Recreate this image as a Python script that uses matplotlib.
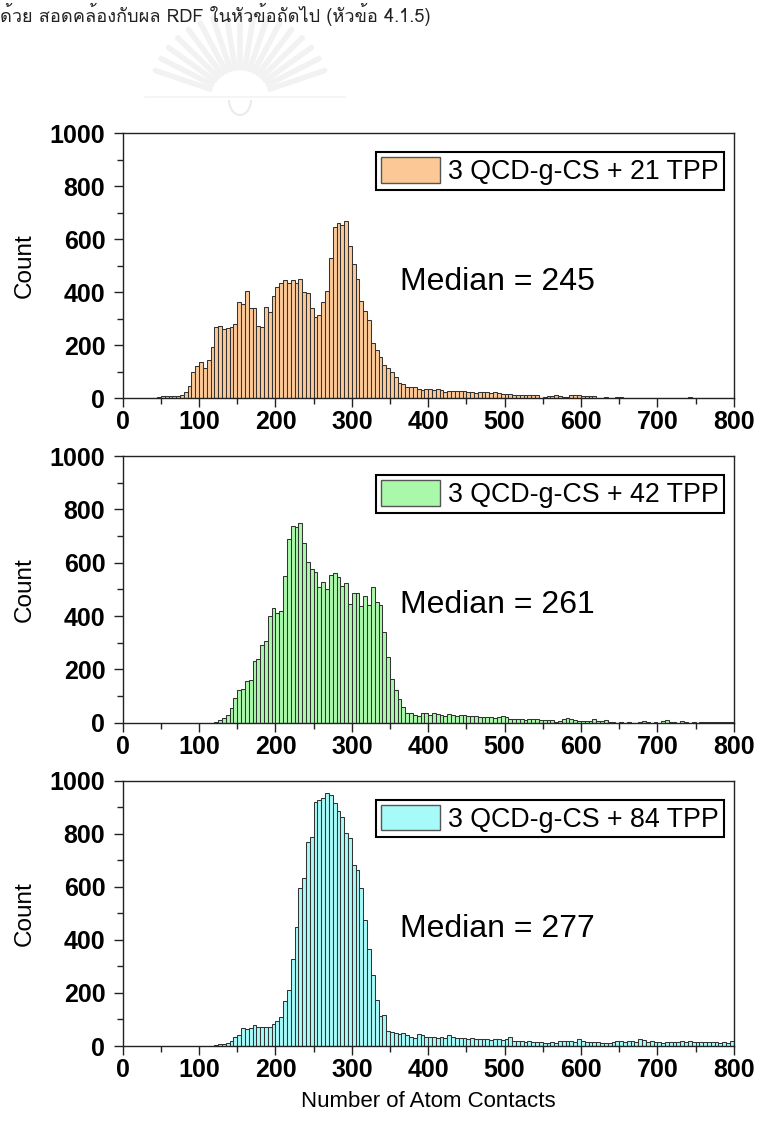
import numpy as np
import matplotlib
matplotlib.use("Agg")
import matplotlib.pyplot as plt
from matplotlib import font_manager, ft2font
from matplotlib.patches import Patch, Arc
from matplotlib.ticker import MultipleLocator

# histogram counts, bin width 5
bin_width = 5

start_21 = 40
counts_21 = [
    2, 5, 8, 8, 8, 8, 9, 12, 22, 48,              # 40-85
    98, 123, 138, 113, 145, 194, 268, 273, 260, 265,  # 90-135
    270, 280, 365, 355, 405, 340, 340, 273, 268, 346,  # 140-185
    325, 387, 421, 434, 445, 436, 447, 434, 452, 402,  # 190-235
    397, 340, 308, 315, 365, 406, 528, 645, 660, 654,  # 240-285
    669, 575, 507, 449, 367, 331, 296, 208, 182, 157,  # 290-335
    126, 113, 98, 82, 57, 55, 44, 44, 44, 34,      # 340-385
    33, 34, 34, 33, 34, 33, 25, 29, 28, 29,        # 390-435
    28, 29, 25, 22, 20, 24, 23, 24, 21, 22,        # 440-485
    20, 16, 17, 15, 13, 13, 12, 13, 13, 12,        # 490-535
    13, 3, 4, 10, 9, 11, 10, 5, 6, 12,            # 540-585
    13, 12, 9, 8, 8, 9, 2, 1, 6, 2,               # 590-635
    1, 6, 5, 1, 1, 1, 1, 1, 0, 1,                 # 640-685
    1, 0, 1, 1, 1, 0, 1, 1, 1, 1,                 # 690-735
    5, 1, 1, 0, 1, 0, 1, 0, 1, 1,                 # 740-785
    0, 1,                                         # 790-795
]

start_42 = 120
counts_42 = [
    4, 10, 16, 29, 54, 91, 122, 125, 158, 160,     # 120-165
    231, 238, 291, 308, 400, 429, 410, 420, 550, 687,  # 170-215
    737, 732, 750, 675, 604, 575, 566, 510, 529, 500,  # 220-265
    554, 560, 547, 514, 525, 445, 487, 487, 437, 475,  # 270-315
    441, 510, 454, 441, 341, 245, 162, 122, 87, 60,    # 320-365
    37, 35, 29, 25, 35, 37, 29, 35, 32, 27,        # 370-415
    25, 32, 28, 26, 30, 27, 25, 24, 26, 22,        # 420-465
    21, 23, 20, 18, 20, 24, 22, 14, 13, 12,        # 470-515
    13, 11, 12, 14, 12, 10, 11, 10, 9, 4,          # 520-565
    5, 15, 16, 12, 10, 7, 7, 6, 8, 13,            # 570-615
    6, 5, 10, 2, 1, 0, 1, 0, 1, 0,                # 620-665
    0, 1, 8, 1, 0, 1, 0, 8, 9, 2,                 # 670-715
    1, 0, 8, 1, 0, 1, 0, 1, 1, 1,                 # 720-765
    1, 1, 1, 1, 1, 1,                             # 770-795
]

start_84 = 120
counts_84 = [
    3, 6, 7, 10, 20, 35, 41, 67, 63, 69,           # 120-165
    79, 70, 73, 70, 73, 83, 95, 111, 171, 211,     # 170-215
    327, 450, 594, 634, 770, 789, 921, 927, 933, 955,  # 220-265
    946, 917, 887, 864, 804, 785, 682, 663, 594, 475,  # 270-315
    364, 268, 173, 112, 115, 58, 54, 50, 44, 48,   # 320-365
    41, 35, 29, 45, 41, 35, 33, 33, 32, 34,        # 370-415
    31, 41, 33, 30, 31, 29, 28, 29, 27, 28,        # 420-465
    25, 27, 24, 26, 25, 23, 26, 33, 20, 18,        # 470-515
    17, 16, 18, 15, 16, 14, 13, 12, 14, 13,        # 520-565
    19, 18, 20, 17, 16, 25, 18, 16, 15, 16,        # 570-615
    14, 12, 13, 12, 14, 17, 18, 15, 17, 19,        # 620-665
    16, 25, 22, 15, 18, 14, 16, 12, 14, 15,        # 670-715
    14, 16, 17, 15, 19, 15, 14, 16, 15, 14,        # 720-765
    16, 15, 13, 14, 12, 20,                        # 770-795
]

series_labels = ["3 QCD-g-CS + 21 TPP", "3 QCD-g-CS + 42 TPP", "3 QCD-g-CS + 84 TPP"]
medians = [245, 261, 277]
bar_colors = ["#FCC896", "#AAF8AA", "#A6FAF8"]
x_label = "Number of Atom Contacts"
y_label = "Count"
header_text = "ด้วย สอดคล้องกับผล RDF ในหัวข้อถัดไป (หัวข้อ 4.1.5)"


def find_thai_font():
    # first installed font that has Thai glyphs
    for f in font_manager.fontManager.ttflist:
        try:
            if 0x0E14 in ft2font.FT2Font(f.fname).get_charmap():
                return f.name
        except Exception:
            pass
    return None


plt.rcParams['font.family'] = ['Liberation Sans', 'DejaVu Sans']

W, H = 758, 1130
fig = plt.figure(figsize=(W / 100, H / 100), dpi=100)

# faint watermark of the scanned page (pixel coords)
bg = fig.add_axes([0, 0, 1, 1], zorder=-5)
bg.set_xlim(0, W)
bg.set_ylim(H, 0)
bg.axis('off')
cx, cy = 240, 100
for ang in np.linspace(20, 160, 17):
    a = np.radians(ang)
    bg.plot([cx + 32 * np.cos(a), cx + 90 * np.cos(a)],
            [cy - 32 * np.sin(a), cy - 86 * np.sin(a)],
            color='#f2f2f2', lw=4, solid_capstyle='round')
bg.add_patch(Arc((cx, cy), 22, 30, theta1=0, theta2=180, color='#ebebeb', lw=1.5))
bg.plot([cx - 95, cx + 105], [cy - 3, cy - 3], color='#f3f3f3', lw=1.2)

# axes boxes in pixels: left, right, top, bottom
ax_left, ax_right = 122.7, 733.7
ax_rows = [(133.3, 398.3), (456.0, 722.7), (780.7, 1046.0)]

panels = [(start_21, counts_21), (start_42, counts_42), (start_84, counts_84)]

axes = []
for i, (top, bottom) in enumerate(ax_rows):
    ax = fig.add_axes([ax_left / W, 1 - bottom / H,
                       (ax_right - ax_left) / W, (bottom - top) / H])
    start, counts = panels[i]
    edges = start + bin_width * np.arange(len(counts))
    ax.bar(edges, counts, width=bin_width, align='edge',
           color=bar_colors[i], edgecolor='#333333', linewidth=0.75)

    ax.set_xlim(0, 800)
    ax.set_ylim(0, 1000)
    ax.xaxis.set_major_locator(MultipleLocator(100))
    ax.xaxis.set_minor_locator(MultipleLocator(50))
    ax.yaxis.set_major_locator(MultipleLocator(200))
    ax.yaxis.set_minor_locator(MultipleLocator(100))
    ax.tick_params(which='both', direction='out', top=False, right=False,
                   width=1.0, colors='#222222', labelcolor='black')
    ax.tick_params(which='major', length=6.5, labelsize=18)
    ax.tick_params(axis='y', which='major', pad=6)
    ax.tick_params(axis='x', which='major', pad=2)
    ax.tick_params(which='minor', length=4)
    for lab in ax.get_xticklabels() + ax.get_yticklabels():
        lab.set_fontweight('bold')
    for sp in ax.spines.values():
        sp.set_linewidth(1.0)
        sp.set_color('#222222')

    ax.set_ylabel(y_label, fontsize=17.5)
    ax.yaxis.set_label_coords(-0.142, 0.5)

    leg = ax.legend(handles=[Patch(facecolor=bar_colors[i], edgecolor='#555555', linewidth=1.0)],
                    labels=[series_labels[i]], loc='upper right',
                    bbox_to_anchor=(0.9836, 0.928), borderaxespad=0,
                    fontsize=19.3, fancybox=False, edgecolor='black', framealpha=1,
                    handlelength=2.2, handleheight=1.1, handletextpad=0.3,
                    borderpad=0.18)
    leg.get_frame().set_linewidth(1.5)

    ax.text(363, 410, f"Median = {medians[i]}", fontsize=23, va='baseline', ha='left')
    axes.append(ax)

axes[-1].set_xlabel(x_label, fontsize=16)
axes[-1].xaxis.set_label_coords(0.5, -0.17)

# header line of the page
thai = find_thai_font()
fam = [thai, 'DejaVu Sans'] if thai else ['DejaVu Sans']
txt = fig.text(0, 1 - 22 / H, header_text, family=fam, fontsize=17,
               va='baseline', ha='left', color='#222222')
fig.canvas.draw()
w = txt.get_window_extent().width
if w > 0:
    txt.set_fontsize(17 * 430 / w)

fig.savefig("out.png", dpi=100)
